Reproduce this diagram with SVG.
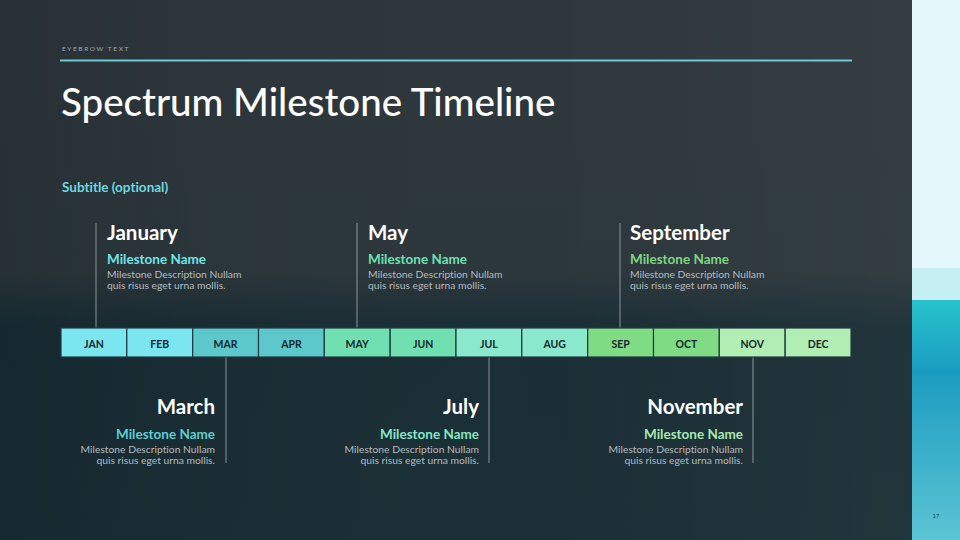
<svg xmlns="http://www.w3.org/2000/svg" width="960" height="540" viewBox="0 0 960 540">
  <defs>
    <linearGradient id="bg" x1="0" y1="0" x2="0" y2="1">
      <stop offset="0" stop-color="#2b3338"/>
      <stop offset="0.5" stop-color="#283338"/>
      <stop offset="0.6" stop-color="#172a31"/>
      <stop offset="1" stop-color="#162b32"/>
    </linearGradient>
    <linearGradient id="bgx" x1="0" y1="0" x2="1" y2="0">
      <stop offset="0" stop-color="#000" stop-opacity="0.05"/>
      <stop offset="0.6" stop-color="#fff" stop-opacity="0.02"/>
      <stop offset="1" stop-color="#fff" stop-opacity="0.05"/>
    </linearGradient>
    <linearGradient id="strip" x1="0" y1="0" x2="0" y2="1">
      <stop offset="0" stop-color="#26c2cc"/>
      <stop offset="0.3" stop-color="#1a9cc0"/>
      <stop offset="1" stop-color="#5cc4d4"/>
    </linearGradient>
    <style>
      .sans { font-family: Lato, "Liberation Sans", sans-serif; font-variant-ligatures: none; }
      .eyebrow { font-size: 6.5px; letter-spacing: 1.6px; fill: #a3abaf; }
      .title { font-size: 38.5px; fill: #ffffff; font-weight: 500; }
      .subtitle { font-size: 13.5px; font-weight: 700; fill: #6fd8e0; }
      .month { font-size: 20.5px; font-weight: 700; fill: #ffffff; }
      .mname { font-size: 13.5px; font-weight: 700; }
      .desc { font-size: 10.3px; fill: #b3bbbf; }
      .cell { stroke: #1d3a40; stroke-width: 1.2; }
      .clabel { font-size: 10.5px; font-weight: 700; fill: #16262c; text-anchor: middle; }
      .conn { stroke: #8a9599; stroke-width: 1; fill: none; }
      .end { text-anchor: end; }
    </style>
  </defs>

  <rect x="0" y="0" width="960" height="540" fill="url(#bg)"/>
  <rect x="0" y="0" width="912" height="540" fill="url(#bgx)"/>
  <rect x="912" y="0" width="48" height="268" fill="#e4f8fc"/>
  <rect x="912" y="268" width="48" height="32" fill="#c6eff3"/>
  <rect x="912" y="300" width="48" height="240" fill="url(#strip)"/>
  <text class="sans" x="936" y="518" font-size="6" fill="#1c3a44" text-anchor="middle">17</text>

  <g id="header">
    <text class="sans eyebrow" x="62" y="51">EYEBROW TEXT</text>
    <line x1="60" y1="60.5" x2="852" y2="60.5" stroke="#6ccad0" stroke-width="2"/>
    <text class="sans title" x="61" y="116">Spectrum Milestone Timeline</text>
    <text class="sans subtitle" x="62" y="192">Subtitle (optional)</text>
  </g>

  <g id="connectors">
    <line class="conn" x1="96" y1="223" x2="96" y2="328"/>
    <line class="conn" x1="357" y1="223" x2="357" y2="328"/>
    <line class="conn" x1="620" y1="223" x2="620" y2="328"/>
    <line class="conn" x1="226" y1="357" x2="226" y2="463"/>
    <line class="conn" x1="489" y1="357" x2="489" y2="463"/>
    <line class="conn" x1="753" y1="357" x2="753" y2="463"/>
  </g>

  <g id="timeline">
    <g id="cell-jan"><rect class="cell" x="61" y="328" width="65.8" height="29" fill="#7ce6f0"/><text class="sans clabel" x="93.9" y="347.5">JAN</text></g>
    <g id="cell-feb"><rect class="cell" x="126.8" y="328" width="65.8" height="29" fill="#7ce6f0"/><text class="sans clabel" x="159.7" y="347.5">FEB</text></g>
    <g id="cell-mar"><rect class="cell" x="192.7" y="328" width="65.8" height="29" fill="#5cc8cc"/><text class="sans clabel" x="225.6" y="347.5">MAR</text></g>
    <g id="cell-apr"><rect class="cell" x="258.5" y="328" width="65.8" height="29" fill="#5cc8cc"/><text class="sans clabel" x="291.4" y="347.5">APR</text></g>
    <g id="cell-may"><rect class="cell" x="324.3" y="328" width="65.8" height="29" fill="#70e0b0"/><text class="sans clabel" x="357.2" y="347.5">MAY</text></g>
    <g id="cell-jun"><rect class="cell" x="390.2" y="328" width="65.8" height="29" fill="#70e0b0"/><text class="sans clabel" x="423.1" y="347.5">JUN</text></g>
    <g id="cell-jul"><rect class="cell" x="456" y="328" width="65.8" height="29" fill="#8ae8cc"/><text class="sans clabel" x="488.9" y="347.5">JUL</text></g>
    <g id="cell-aug"><rect class="cell" x="521.8" y="328" width="65.8" height="29" fill="#8ae8cc"/><text class="sans clabel" x="554.7" y="347.5">AUG</text></g>
    <g id="cell-sep"><rect class="cell" x="587.7" y="328" width="65.8" height="29" fill="#80dc84"/><text class="sans clabel" x="620.6" y="347.5">SEP</text></g>
    <g id="cell-oct"><rect class="cell" x="653.5" y="328" width="65.8" height="29" fill="#80dc84"/><text class="sans clabel" x="686.4" y="347.5">OCT</text></g>
    <g id="cell-nov"><rect class="cell" x="719.3" y="328" width="65.8" height="29" fill="#b0eeb4"/><text class="sans clabel" x="752.2" y="347.5">NOV</text></g>
    <g id="cell-dec"><rect class="cell" x="785.2" y="328" width="65.8" height="29" fill="#b0eeb4"/><text class="sans clabel" x="818.1" y="347.5">DEC</text></g>
  </g>

  <g id="ms-january">
    <text class="sans month" x="107" y="240">January</text>
    <text class="sans mname" x="107" y="264" fill="#70e4e8">Milestone Name</text>
    <text class="sans desc" x="107" y="278">Milestone Description Nullam</text>
    <text class="sans desc" x="107" y="289">quis risus eget urna mollis.</text>
  </g>
  <g id="ms-may">
    <text class="sans month" x="368" y="240">May</text>
    <text class="sans mname" x="368" y="264" fill="#6ee0b4">Milestone Name</text>
    <text class="sans desc" x="368" y="278">Milestone Description Nullam</text>
    <text class="sans desc" x="368" y="289">quis risus eget urna mollis.</text>
  </g>
  <g id="ms-september">
    <text class="sans month" x="630" y="240">September</text>
    <text class="sans mname" x="630" y="264" fill="#7ed882">Milestone Name</text>
    <text class="sans desc" x="630" y="278">Milestone Description Nullam</text>
    <text class="sans desc" x="630" y="289">quis risus eget urna mollis.</text>
  </g>
  <g id="ms-march">
    <text class="sans month end" x="215" y="414">March</text>
    <text class="sans mname end" x="215" y="439" fill="#5ccfcf">Milestone Name</text>
    <text class="sans desc end" x="215" y="453">Milestone Description Nullam</text>
    <text class="sans desc end" x="215" y="464">quis risus eget urna mollis.</text>
  </g>
  <g id="ms-july">
    <text class="sans month end" x="479" y="414">July</text>
    <text class="sans mname end" x="479" y="439" fill="#86e6c8">Milestone Name</text>
    <text class="sans desc end" x="479" y="453">Milestone Description Nullam</text>
    <text class="sans desc end" x="479" y="464">quis risus eget urna mollis.</text>
  </g>
  <g id="ms-november">
    <text class="sans month end" x="743" y="414">November</text>
    <text class="sans mname end" x="743" y="439" fill="#a8eaae">Milestone Name</text>
    <text class="sans desc end" x="743" y="453">Milestone Description Nullam</text>
    <text class="sans desc end" x="743" y="464">quis risus eget urna mollis.</text>
  </g>
</svg>
